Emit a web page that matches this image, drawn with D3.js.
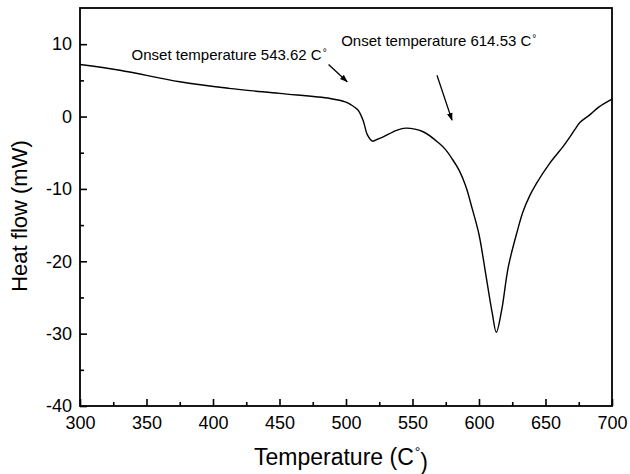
<!DOCTYPE html>
<html>
<head>
<meta charset="utf-8">
<script src="https://cdn.jsdelivr.net/npm/d3@7"></script>
<style>
  html, body { margin: 0; padding: 0; background: #fff; }
  svg { display: block; }
  text { font-family: "Liberation Sans", Arial, sans-serif; fill: #000; }
</style>
</head>
<body>
<svg id="chart" width="630" height="474"></svg>
<script>
// Data
const temperature = [300,330,375,412,450,488,500,504,509,513,516,520,524,528,538,545,558,570,575,580,585,590,595,600,605,610,613,617,622,629,633,638,643,653,663,668,672,676,683,690,700];
const heatFlow    = [7.2,6.4,4.8,3.9,3.2,2.5,2.0,1.6,0.9,-0.6,-2.5,-3.4,-3.1,-2.8,-1.9,-1.6,-2.1,-3.7,-4.6,-5.9,-7.4,-9.6,-12.8,-16.3,-21.7,-27.2,-29.8,-26.8,-20.8,-15.7,-13.2,-11.0,-9.3,-6.5,-4.2,-2.9,-1.8,-0.8,0.2,1.3,2.4];

const xMajorTicks = [300,350,400,450,500,550,600,650,700];
const xMinorTicks = [325,375,425,475,525,575,625,675];
const yMajorTicks = [-40,-30,-20,-10,0,10];
const yMinorTicks = [-35,-25,-15,-5,5];

const annotationText = ["Onset temperature 543.62 C", "Onset temperature 614.53 C"];
const annotationTextX = [338.8, 496.4];
const annotationTextY = [7.8, 9.7];
const arrowFromX = [486.9, 568.4];
const arrowFromY = [7.2, 5.7];
const arrowToX = [500.9, 579.7];
const arrowToY = [4.8, -0.5];

const xTitle = "Temperature (C";
const yTitle = "Heat flow (mW)";

const svg = d3.select("#chart");
const margin = {top: 8, right: 18, bottom: 68, left: 80};
const W = 630, H = 474;
const iw = W - margin.left - margin.right;
const ih = H - margin.top - margin.bottom;

const x = d3.scaleLinear().domain([300, 700]).range([0, iw]);
const y = d3.scaleLinear().domain([-40, 15]).range([ih, 0]);

const g = svg.append("g").attr("transform", `translate(${margin.left},${margin.top})`);

svg.append("defs").append("marker")
  .attr("id", "ah").attr("viewBox", "0 0 10 10")
  .attr("refX", 9).attr("refY", 5)
  .attr("markerWidth", 8).attr("markerHeight", 8)
  .attr("markerUnits", "userSpaceOnUse")
  .attr("orient", "auto")
  .append("path").attr("d", "M0,1.5 L10,5 L0,8.5 Z").attr("fill", "#000");

// Curve
const pts = temperature.map((t, i) => [t, heatFlow[i]]);
g.append("path")
  .datum(pts)
  .attr("fill", "none")
  .attr("stroke", "#000")
  .attr("stroke-width", 1.4)
  .attr("stroke-linejoin", "round")
  .attr("d", d3.line().x(d => x(d[0])).y(d => y(d[1])).curve(d3.curveCatmullRom.alpha(0.5)));

// Axes
const fmt = d => String(d);
const xAxis = g.append("g").attr("transform", `translate(0,${ih})`)
  .call(d3.axisBottom(x).tickValues(xMajorTicks).tickSize(-7).tickPadding(10).tickFormat(fmt));
const xAxisMinor = g.append("g").attr("transform", `translate(0,${ih})`)
  .call(d3.axisBottom(x).tickValues(xMinorTicks).tickSize(-4).tickFormat(""));
const yAxis = g.append("g")
  .call(d3.axisLeft(y).tickValues(yMajorTicks).tickSize(-7).tickPadding(8).tickFormat(fmt));
const yAxisMinor = g.append("g")
  .call(d3.axisLeft(y).tickValues(yMinorTicks).tickSize(-4).tickFormat(""));

[xAxis, xAxisMinor, yAxis, yAxisMinor].forEach(a => {
  a.select(".domain").remove();
  a.selectAll(".tick line").attr("stroke", "#000").attr("stroke-width", 1.6);
  a.selectAll(".tick text").style("font-size", "18px").attr("fill", "#000")
    .style("font-family", "'Liberation Sans', Arial, sans-serif");
});

// Frame
g.append("rect").attr("x", 0).attr("y", 0).attr("width", iw).attr("height", ih)
  .attr("fill", "none").attr("stroke", "#000").attr("stroke-width", 1.8);

// Annotations
annotationText.forEach((t, i) => {
  const tx = g.append("text")
    .attr("x", x(annotationTextX[i])).attr("y", y(annotationTextY[i]))
    .style("font-size", "15px");
  tx.append("tspan").text(t);
  tx.append("tspan").attr("dy", "-0.45em").attr("dx", "1").style("font-size", "10px").text("°");
  g.append("line")
    .attr("x1", x(arrowFromX[i])).attr("y1", y(arrowFromY[i]))
    .attr("x2", x(arrowToX[i])).attr("y2", y(arrowToY[i]))
    .attr("stroke", "#000").attr("stroke-width", 1.3)
    .attr("marker-end", "url(#ah)");
});

// Axis titles
const xt = svg.append("text")
  .attr("x", 341).attr("y", 465)
  .attr("text-anchor", "middle")
  .style("font-size", "23px");
xt.append("tspan").text(xTitle);
xt.append("tspan").attr("dy", "-0.55em").attr("dx", "1").style("font-size", "14px").text("°");
xt.append("tspan").attr("dy", "0.55em").text(")");

svg.append("text")
  .attr("transform", `translate(27,${216}) rotate(-90)`)
  .attr("text-anchor", "middle")
  .style("font-size", "22px")
  .text(yTitle);
</script>
</body>
</html>
